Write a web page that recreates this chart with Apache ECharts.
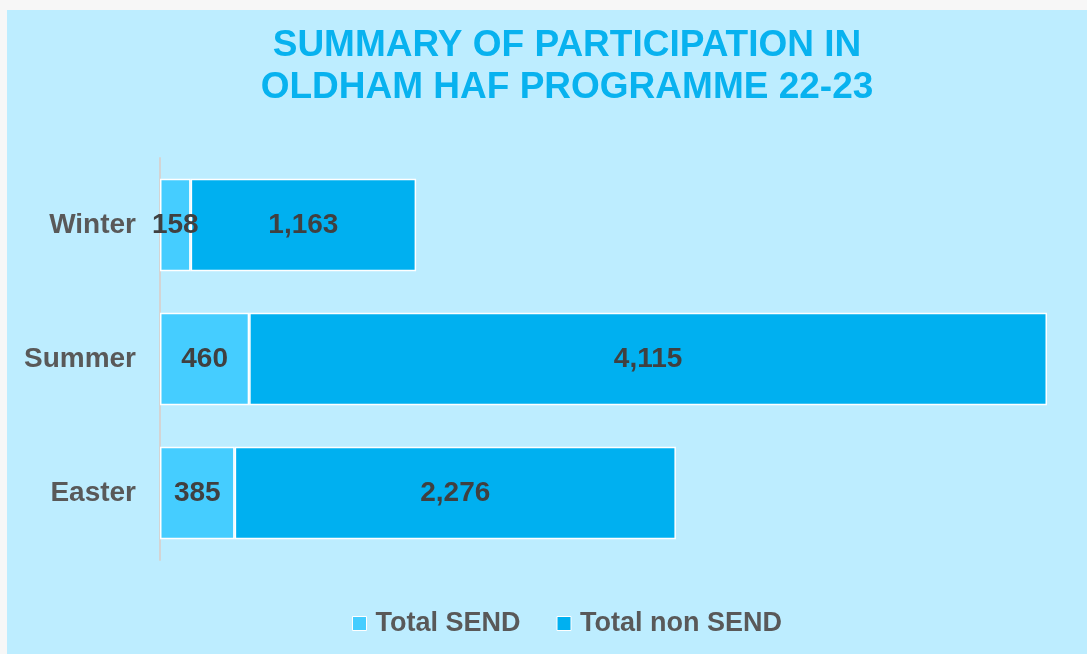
<!DOCTYPE html>
<html>
<head>
<meta charset="utf-8">
<script src="https://cdn.jsdelivr.net/npm/echarts@6/dist/echarts.min.js"></script>
<style>
  html, body { margin: 0; padding: 0; background: #f7f7f7; }
  #chart { position: absolute; left: 7px; top: 10px; width: 1080px; height: 644px; background: #bdedff; }
</style>
</head>
<body>
<div id="chart"></div>
<script>
// seasons, bottom to top as ECharts draws a category y axis
var seasons = ["Easter", "Summer", "Winter"];
var totalSend = [385, 460, 158];
var totalNonSend = [2276, 4115, 1163];

var font = "Arial, 'Liberation Sans', sans-serif";

var chart = echarts.init(document.getElementById("chart"));

function numLabel(p) {
  return p.value.toLocaleString("en-GB");
}

chart.setOption({
  animation: false,
  title: {
    text: "SUMMARY OF PARTICIPATION IN\nOLDHAM HAF PROGRAMME 22-23",
    left: 555,
    top: 10,
    textAlign: "center",
    textStyle: {
      fontFamily: font,
      fontSize: 37,
      fontWeight: "bold",
      color: "#08b2ef",
      lineHeight: 42,
    },
  },
  legend: {
    left: 340,
    top: 595,
    itemWidth: 14,
    itemHeight: 14,
    itemGap: 36,
    icon: "rect",
    itemStyle: { borderColor: "#ffffff", borderWidth: 1 },
    textStyle: {
      fontFamily: font,
      fontSize: 27,
      fontWeight: "bold",
      color: "#595959",
      padding: [0, 0, 0, 4],
    },
    data: ["Total SEND", "Total non SEND"],
  },
  grid: { left: 153, right: 40, top: 148, bottom: 94 },
  xAxis: {
    type: "value",
    min: 0,
    max: function (v) { return v.max; },
    show: false,
    splitLine: { show: false },
  },
  yAxis: {
    type: "category",
    data: seasons,
    axisTick: { show: false },
    axisLine: { lineStyle: { color: "#d4d4d4", width: 2 } },
    axisLabel: {
      margin: 24,
      fontFamily: font,
      fontSize: 28,
      fontWeight: "bold",
      color: "#595959",
    },
  },
  series: [
    {
      name: "Total SEND",
      type: "bar",
      stack: "total",
      barCategoryGap: "31%",
      data: totalSend,
      itemStyle: { color: "#45cdff", borderColor: "#ffffff", borderWidth: 1.5 },
      label: {
        show: true,
        position: "inside",
        formatter: numLabel,
        fontFamily: font,
        fontSize: 28,
        fontWeight: "bold",
        color: "#404040",
      },
    },
    {
      name: "Total non SEND",
      type: "bar",
      stack: "total",
      barCategoryGap: "31%",
      data: totalNonSend,
      itemStyle: { color: "#00b0f0", borderColor: "#ffffff", borderWidth: 1.5 },
      label: {
        show: true,
        position: "inside",
        formatter: numLabel,
        fontFamily: font,
        fontSize: 28,
        fontWeight: "bold",
        color: "#404040",
      },
    },
  ],
});
</script>
</body>
</html>
